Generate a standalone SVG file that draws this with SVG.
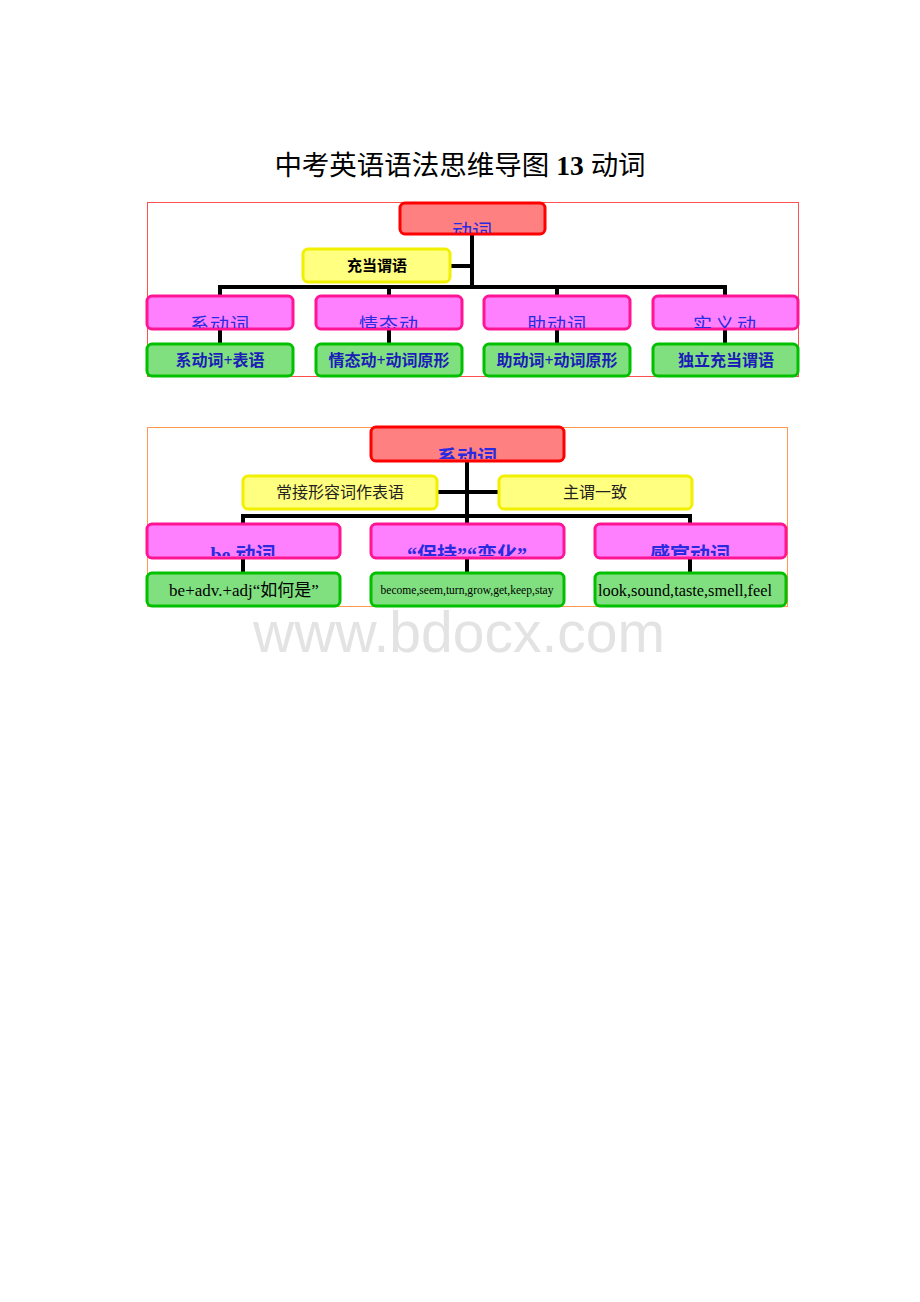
<svg xmlns="http://www.w3.org/2000/svg" width="920" height="1302" viewBox="0 0 920 1302">
<style>
.bg{fill:#ffffff}
.red{fill:#ff8080;stroke:#ff0000;stroke-width:3}
.yel{fill:#ffff80;stroke:#f0f000;stroke-width:3}
.pink{fill:#ff80ff;stroke:#ff1493;stroke-width:3}
.grn{fill:#80e080;stroke:#00c000;stroke-width:3}
.ln{stroke:#000;stroke-width:4;fill:none;stroke-linecap:square}
.t{font-family:"Liberation Serif","Noto Sans CJK SC",serif;text-anchor:middle}
.blue{fill:#2a2ae0}
.dblue{fill:#1c1cb8;font-weight:bold}
</style>
<defs>
<clipPath id="c0"><rect x="401" y="204" width="143" height="29"/></clipPath>
<clipPath id="c1"><rect x="148" y="297" width="144" height="31"/></clipPath>
<clipPath id="c2"><rect x="317" y="297" width="144" height="31"/></clipPath>
<clipPath id="c3"><rect x="485" y="297" width="144" height="31"/></clipPath>
<clipPath id="c4"><rect x="654" y="297" width="143" height="31"/></clipPath>
<clipPath id="d0"><rect x="372" y="428" width="191" height="31"/></clipPath>
<clipPath id="d1"><rect x="148" y="525" width="191" height="31"/></clipPath>
<clipPath id="d2"><rect x="372" y="525" width="191" height="31"/></clipPath>
<clipPath id="d3"><rect x="596" y="525" width="189" height="31"/></clipPath>
</defs>
<rect class="bg" x="0" y="0" width="920" height="1302"/>
<text id="title" class="t" x="460" y="175" font-size="27.5" fill="#000">中考英语语法思维导图 <tspan font-weight="bold">13</tspan> 动词</text>

<rect x="147.5" y="202.5" width="651" height="174" fill="none" stroke="#ff5050" stroke-width="1"/>
<rect x="147.5" y="427.5" width="640" height="179" fill="none" stroke="#ff9a50" stroke-width="1"/>

<g id="connectors">
<path class="ln" d="M472 234 V287 M450 266 H472 M220 287 H725 M220 287 V297 M389 287 V297 M557 287 V297 M725 287 V297 M220 329 V343 M389 329 V343 M557 329 V343 M725 329 V343"/>
<path class="ln" d="M467 461 V516 M437 492 H499 M243 516 H690 M243 516 V524 M467 516 V524 M690 516 V524 M243 558 V573 M467 558 V573 M690 558 V573"/>
</g>

<g id="n-dongci">
<rect class="red" x="400" y="203" width="145" height="31" rx="5"/>
<text class="t blue" x="472" y="239" font-size="20" clip-path="url(#c0)">动词</text>
</g>
<g id="n-chongdang">
<rect class="yel" x="303" y="249" width="147" height="33" rx="5"/>
<text class="t" x="377" y="271" font-size="15" font-weight="bold" fill="#000">充当谓语</text>
</g>
<g id="n-xi">
<rect class="pink" x="147" y="296" width="146" height="33" rx="5"/>
<text class="t blue" x="220" y="332" font-size="19" letter-spacing="1" clip-path="url(#c1)">系动词</text>
</g>
<g id="n-qing">
<rect class="pink" x="316" y="296" width="146" height="33" rx="5"/>
<text class="t blue" x="389" y="332" font-size="19" letter-spacing="1" clip-path="url(#c2)">情态动</text>
</g>
<g id="n-zhu">
<rect class="pink" x="484" y="296" width="146" height="33" rx="5"/>
<text class="t blue" x="557" y="332" font-size="19" letter-spacing="1" clip-path="url(#c3)">助动词</text>
</g>
<g id="n-shi">
<rect class="pink" x="653" y="296" width="145" height="33" rx="5"/>
<text class="t blue" x="726" y="332" font-size="19" letter-spacing="3" clip-path="url(#c4)">实义动</text>
</g>
<g id="g-xi">
<rect class="grn" x="147" y="344" width="146" height="32" rx="5"/>
<text class="t dblue" x="220" y="366" font-size="16">系动词+表语</text>
</g>
<g id="g-qing">
<rect class="grn" x="316" y="344" width="146" height="32" rx="5"/>
<text class="t dblue" x="389" y="366" font-size="16">情态动+动词原形</text>
</g>
<g id="g-zhu">
<rect class="grn" x="484" y="344" width="146" height="32" rx="5"/>
<text class="t dblue" x="557" y="366" font-size="16">助动词+动词原形</text>
</g>
<g id="g-shi">
<rect class="grn" x="653" y="344" width="145" height="32" rx="5"/>
<text class="t dblue" x="726" y="366" font-size="16">独立充当谓语</text>
</g>

<g id="m-xi">
<rect class="red" x="371" y="427" width="193" height="34" rx="5"/>
<text class="t blue" x="467" y="465" font-size="20" font-weight="bold" clip-path="url(#d0)">系动词</text>
</g>
<g id="m-chang">
<rect class="yel" x="243" y="476" width="194" height="33" rx="5"/>
<text class="t" x="340" y="498" font-size="16" fill="#222">常接形容词作表语</text>
</g>
<g id="m-zhuwei">
<rect class="yel" x="499" y="476" width="193" height="33" rx="5"/>
<text class="t" x="595" y="498" font-size="16" fill="#222">主谓一致</text>
</g>
<g id="m-be">
<rect class="pink" x="147" y="524" width="193" height="34" rx="5"/>
<text class="t blue" x="243" y="562" font-size="20" font-weight="bold" clip-path="url(#d1)">be 动词</text>
</g>
<g id="m-bao">
<rect class="pink" x="371" y="524" width="193" height="34" rx="5"/>
<text class="t blue" x="467" y="562" font-size="20" font-weight="bold" clip-path="url(#d2)">“保持”“变化”</text>
</g>
<g id="m-gan">
<rect class="pink" x="595" y="524" width="191" height="34" rx="5"/>
<text class="t blue" x="690" y="562" font-size="20" font-weight="bold" clip-path="url(#d3)">感官动词</text>
</g>
<g id="h-be">
<rect class="grn" x="147" y="573" width="193" height="33" rx="5"/>
<text class="t" x="244" y="596" font-size="17" fill="#000">be+adv.+adj“如何是”</text>
</g>
<g id="h-bao">
<rect class="grn" x="371" y="573" width="193" height="33" rx="5"/>
<text class="t" x="467" y="594" font-size="11.5" fill="#000" textLength="173" lengthAdjust="spacingAndGlyphs">become,seem,turn,grow,get,keep,stay</text>
</g>
<g id="h-gan">
<rect class="grn" x="595" y="573" width="191" height="33" rx="5"/>
<text class="t" x="685" y="596" font-size="17" fill="#000" textLength="174" lengthAdjust="spacingAndGlyphs">look,sound,taste,smell,feel</text>
</g>

<text id="watermark" x="459" y="652" font-family="Liberation Sans, Arial, sans-serif" font-size="57" fill="#e3e3e3" text-anchor="middle">www.bdocx.com</text>
</svg>
